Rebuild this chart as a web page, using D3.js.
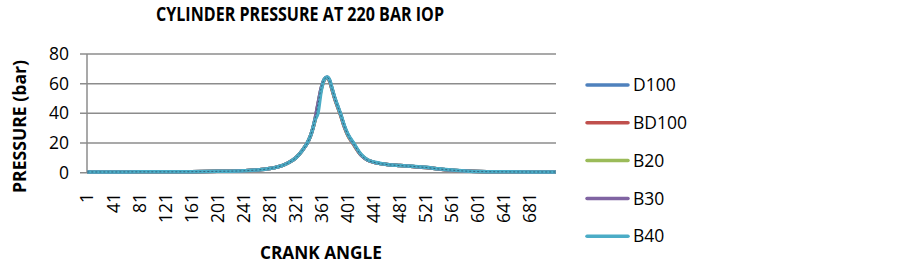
<!DOCTYPE html>
<html><head><meta charset="utf-8">
<script src="https://cdn.jsdelivr.net/npm/d3@7/dist/d3.min.js"></script>
<style>body{margin:0;background:#fff}svg{display:block}</style>
</head><body><div id="c"></div>
<script>
const title = "CYLINDER PRESSURE AT 220 BAR IOP";
const xTitle = "CRANK ANGLE";
const yTitle = "PRESSURE (bar)";
const seriesNames = ["D100","BD100","B20","B30","B40"];
const seriesColors = ["#4F81BD","#C0504D","#9BBB59","#8064A2","#4BACC6"];
const xTickLabels = [1,41,81,121,161,201,241,281,321,361,401,441,481,521,561,601,641,681];
const yTicks = [0,20,40,60,80];
// crank angle samples
const angles = [1,41,81,121,161,201,241,261,281,301,311,321,331,341,346,351,355,360,365,369,373,377,381,385,390,395,401,409,421,431,441,461,481,501,521,541,561,581,601,641,681,720];
const D100  = [0.5,0.5,0.6,0.6,0.7,0.9,1.3,1.8,2.8,5.0,7.0,10,15,22,28,37,46,57,63,64.3,62,56,50,45,39,32,25.5,20,12,8.5,7.0,5.5,4.8,4.2,3.5,2.5,1.7,1.1,0.8,0.6,0.5,0.5];
const BD100 = [0.5,0.5,0.6,0.6,0.7,0.9,1.3,1.8,2.8,5.0,7.0,10,15,22,28,36,45,56,62.5,64,61.5,55.5,49.5,44.5,38.5,31.5,25,19.5,12,8.5,7.0,5.5,4.8,4.2,3.5,2.5,1.7,1.1,0.8,0.6,0.5,0.5];
const B20   = [0.5,0.5,0.6,0.6,0.7,0.9,1.3,1.8,2.8,5.0,7.0,10,15,22,28,36.5,45.5,56.5,63,64.2,61.8,55.8,49.8,44.8,38.8,31.8,25.2,19.8,12,8.5,7.0,5.5,4.8,4.2,3.5,2.5,1.7,1.1,0.8,0.6,0.5,0.5];
const B30   = [0.5,0.5,0.6,0.6,0.7,0.9,1.3,1.8,2.8,5.0,7.0,10,15,22,28,37,46,57,63.2,64.4,62,56,50,45,39,32,25.5,20,12,8.5,7.0,5.5,4.8,4.2,3.5,2.5,1.7,1.1,0.8,0.6,0.5,0.5];
const B40   = [0.5,0.5,0.6,0.6,0.7,0.9,1.3,1.8,2.8,5.0,7.0,10,15,22,28,36,40,55,63,64.5,62.5,56.5,50.5,45.5,39.5,32.5,26,20.5,12.5,8.8,7.2,5.6,4.9,4.3,3.6,2.6,1.8,1.2,0.8,0.6,0.5,0.5];
const seriesValues = [D100,BD100,B20,B30,B40];

const W = 903, H = 265;
const font = "'Open Sans', 'Liberation Sans', sans-serif";
const svg = d3.select("#c").append("svg").attr("width", W).attr("height", H);

const x = d3.scaleLinear().domain([0.5, 720.5]).range([87, 556]);
const y = d3.scaleLinear().domain([0, 80]).range([172.7, 54]);

// gridlines
svg.append("g").selectAll("line").data(yTicks).join("line")
  .attr("x1", 80).attr("x2", 556)
  .attr("y1", d => y(d)).attr("y2", d => y(d))
  .attr("stroke", "#8c8c8c").attr("stroke-width", 1.5);
// y axis line
svg.append("line").attr("x1", 87).attr("x2", 87).attr("y1", y(80)).attr("y2", y(0))
  .attr("stroke", "#8c8c8c").attr("stroke-width", 1.5);

// y tick labels
svg.append("g").selectAll("text").data(yTicks).join("text")
  .attr("x", 69).attr("y", d => y(d)).attr("dy", "0.35em")
  .attr("text-anchor", "end").attr("font-family", font).attr("font-size", 17.5)
  .attr("fill", "#000").text(d => d);

// x tick labels
svg.append("g").selectAll("text").data(xTickLabels).join("text")
  .attr("transform", d => `translate(${x(d)},193) rotate(-90)`)
  .attr("dy", "0.35em").attr("text-anchor", "end")
  .attr("font-family", font).attr("font-size", 17.5).attr("fill", "#000").text(d => d);

// lines
const line = d3.line().x((d, i) => x(angles[i])).y(d => y(d)).curve(d3.curveMonotoneX);
seriesValues.forEach((vals, k) => {
  svg.append("path").datum(vals).attr("d", line)
    .attr("fill", "none").attr("stroke", seriesColors[k])
    .attr("stroke-width", 3.5).attr("stroke-linejoin", "round");
});
// dark overlay for the near-identical D100 trace
svg.append("path").datum(D100).attr("d", line)
  .attr("fill", "none").attr("stroke", "#1f3550").attr("stroke-width", 1)
  .attr("stroke-dasharray", "2,2").attr("opacity", 0.6);

// titles (condensed to mimic the narrow bold face)
svg.append("text").attr("x", 300).attr("y", 20.7).attr("text-anchor", "middle")
  .attr("font-family", font).attr("font-weight", "bold").attr("font-size", 19)
  .attr("textLength", 288).attr("lengthAdjust", "spacingAndGlyphs")
  .text(title);
svg.append("text").attr("x", 321).attr("y", 259).attr("text-anchor", "middle")
  .attr("font-family", font).attr("font-weight", "bold").attr("font-size", 18)
  .attr("textLength", 122).attr("lengthAdjust", "spacingAndGlyphs")
  .text(xTitle);
svg.append("text").attr("transform", "translate(25.5,126.5) rotate(-90)").attr("text-anchor", "middle")
  .attr("font-family", font).attr("font-weight", "bold").attr("font-size", 18)
  .attr("textLength", 133).attr("lengthAdjust", "spacingAndGlyphs")
  .text(yTitle);

// legend
const lg = svg.append("g").selectAll("g").data(seriesNames).join("g")
  .attr("transform", (d, i) => `translate(587,${85 + i * 37.8})`);
lg.append("line").attr("x1", 0).attr("x2", 41).attr("y1", 0).attr("y2", 0)
  .attr("stroke", (d, i) => seriesColors[i]).attr("stroke-width", 3.5).attr("stroke-linecap", "round");
lg.append("text").attr("x", 46).attr("dy", "0.35em")
  .attr("font-family", font).attr("font-size", 17.5).text(d => d);
</script></body></html>
